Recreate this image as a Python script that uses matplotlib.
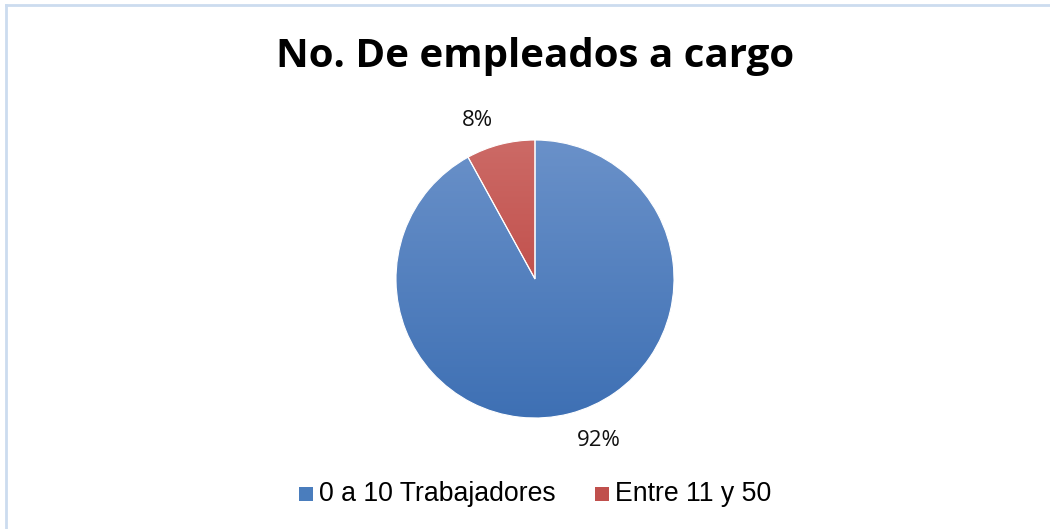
import numpy as np
import matplotlib
matplotlib.use("Agg")
import matplotlib.pyplot as plt
from matplotlib.colors import LinearSegmentedColormap
from matplotlib.patches import Rectangle
from matplotlib.lines import Line2D

title = "No. De empleados a cargo"
categories = ["0 a 10 Trabajadores", "Entre 11 y 50"]
values = [92, 8]
labels = ["92%", "8%"]

W, H = 1050, 529
fig = plt.figure(figsize=(W / 100, H / 100), dpi=100)
fig.patch.set_facecolor("white")

# background axes in pixel coordinates
bg = fig.add_axes([0, 0, 1, 1])
bg.set_xlim(0, W)
bg.set_ylim(H, 0)
bg.axis("off")
bg.add_line(Line2D([6, 6], [5, H], color="#CCDCEF", lw=2))
bg.add_line(Line2D([6, W], [5, 5], color="#CCDCEF", lw=2))

bg.text(535, 56, title, ha="center", va="center", fontsize=29,
        fontweight="bold", family="Open Sans", color="black")

# pie axes
cx, cy, r = 535, 279, 139
pad = 1.0
ax = fig.add_axes([(cx - r) / W, (H - cy - r) / H, 2 * r / W, 2 * r / H])
ax.set_xlim(-pad, pad)
ax.set_ylim(-pad, pad)
ax.axis("off")

wedges, _ = ax.pie(values, startangle=90, counterclock=False, radius=1,
                   colors=["#4F81BD", "#C0504D"],
                   wedgeprops=dict(linewidth=0.8, edgecolor="white"))

grads = [("#6A91C9", "#3E70B4"), ("#CC6A66", "#B83935")]
yy = np.linspace(0, 1, 256).reshape(-1, 1)
for w, (top, bot) in zip(wedges, grads):
    cmap = LinearSegmentedColormap.from_list("g", [bot, top])
    im = ax.imshow(np.tile(yy, (1, 2)), cmap=cmap, extent=(-1, 1, -1, 1),
                   origin="lower", aspect="auto", zorder=1)
    im.set_clip_path(w)
    w.set_zorder(2)
    w.set_facecolor("none")

ax.set_xlim(-pad, pad)
ax.set_ylim(-pad, pad)

# data labels
bg.text(599, 440, labels[0], ha="center", va="center", fontsize=16,
        family="Open Sans", color="#111111")
bg.text(477, 120, labels[1], ha="center", va="center", fontsize=16,
        family="Open Sans", color="#111111")

# legend
bg.add_patch(Rectangle((299, 487), 14, 14, facecolor="#4A7DBD", edgecolor="none"))
bg.text(319, 494, categories[0], ha="left", va="center", fontsize=19.2,
        family="Liberation Sans", color="black")
bg.add_patch(Rectangle((595, 487), 14, 14, facecolor="#C0504D", edgecolor="none"))
bg.text(615, 494, categories[1], ha="left", va="center", fontsize=19.2,
        family="Liberation Sans", color="black")

fig.savefig("out.png", dpi=100, facecolor="white")
